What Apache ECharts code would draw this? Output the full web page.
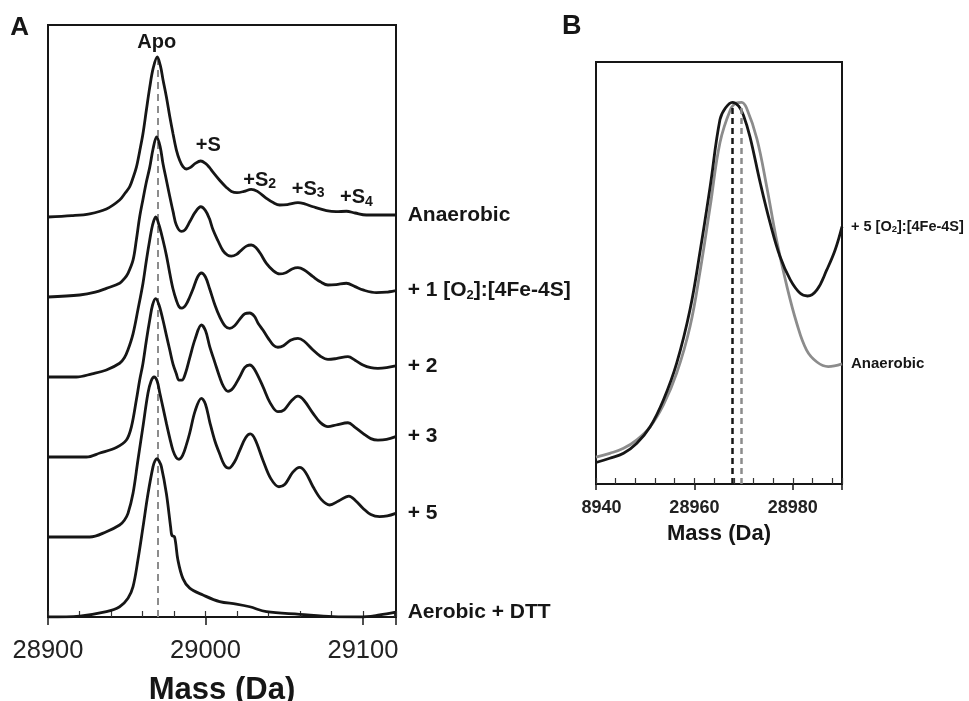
<!DOCTYPE html>
<html><head><meta charset="utf-8">
<script src="https://cdn.jsdelivr.net/npm/echarts@6/dist/echarts.min.js"></script>
<style>html,body{margin:0;padding:0;background:#fff}#c{width:969px;height:701px}</style>
</head><body><div id="c"></div>
<script>
const FONT = '"Liberation Sans", Arial, Helvetica, sans-serif';

// ---------- Panel A: stacked deconvoluted spectra ----------
const traceLabels = ['Anaerobic', '+ 1 [O{s|2}]:[4Fe-4S]', '+ 2', '+ 3', '+ 5', 'Aerobic + DTT'];
const stackOffsets = [2.5, 2.0, 1.5, 1.0, 0.5, 0];

const massAnaerobic = [28900, 28915, 28926.5, 28937.1, 28945.5, 28949, 28951.9, 28954, 28956.1, 28958.2, 28960.3, 28962.5, 28964.6, 28966.8, 28969.4, 28971.5, 28973.0, 28975.2, 28977.3, 28979.4, 28981.5, 28983.6, 28985.7, 28988, 28990.5, 28993.5, 28997, 29000, 29002.5, 29004.8, 29009, 29013.3, 29016.5, 29020, 29024.5, 29029, 29033, 29038.7, 29043, 29047.1, 29052, 29058.7, 29063, 29068.3, 29076.8, 29083, 29089.5, 29095, 29102.2, 29120.8];
const intAnaerobic  = [0, 0.008, 0.02, 0.05, 0.106, 0.15, 0.19, 0.245, 0.31, 0.41, 0.52, 0.67, 0.81, 0.93, 1.0, 0.94, 0.86, 0.75, 0.63, 0.52, 0.42, 0.355, 0.315, 0.30, 0.31, 0.335, 0.35, 0.335, 0.31, 0.28, 0.23, 0.185, 0.16, 0.152, 0.16, 0.173, 0.16, 0.117, 0.09, 0.075, 0.078, 0.09, 0.082, 0.064, 0.04, 0.033, 0.036, 0.025, 0.0125, 0.0125];

const massO1 = [28900, 28920.1, 28930, 28937.1, 28945.5, 28948.5, 28950.8, 28954.0, 28956.1, 28958.2, 28960.3, 28962.5, 28964.6, 28966.8, 28969.0, 28971.2, 28973.0, 28975.2, 28977.3, 28979.4, 28981.5, 28984.7, 28987, 28990.0, 28993.5, 28997.0, 29000, 29002.5, 29004.8, 29008, 29011.1, 29014, 29016.4, 29019.5, 29022.5, 29026, 29029.1, 29032, 29035, 29038.7, 29043, 29047.1, 29051, 29055, 29058.7, 29062.5, 29068.3, 29073, 29077.8, 29083, 29089.5, 29095, 29100.0, 29108.5, 29115, 29120.8];
const intO1  = [0, 0.0125, 0.03, 0.054, 0.086, 0.115, 0.148, 0.23, 0.356, 0.50, 0.61, 0.72, 0.81, 0.93, 1.0, 0.94, 0.835, 0.73, 0.63, 0.535, 0.45, 0.41, 0.42, 0.47, 0.53, 0.564, 0.54, 0.49, 0.42, 0.35, 0.29, 0.262, 0.256, 0.265, 0.29, 0.318, 0.325, 0.31, 0.27, 0.21, 0.165, 0.144, 0.152, 0.175, 0.183, 0.17, 0.127, 0.095, 0.075, 0.078, 0.086, 0.065, 0.044, 0.027, 0.03, 0.04];

const massO2 = [28900, 28918, 28928, 28937.1, 28945.5, 28948.5, 28950.8, 28954.0, 28957.1, 28960.3, 28962.5, 28964.6, 28966.4, 28968.4, 28970.5, 28973.0, 28975.2, 28977.3, 28979.4, 28981.5, 28983.2, 28985, 28987.5, 28990, 28992.1, 28995, 28997.4, 29000, 29002.7, 29006, 29009.0, 29012.5, 29015.4, 29018.5, 29021.7, 29025, 29028.1, 29031, 29033.5, 29036.5, 29040, 29043, 29046.0, 29049.5, 29054, 29058.7, 29062.5, 29068.3, 29073, 29077.8, 29083, 29090.5, 29095, 29100, 29105, 29109.5, 29115, 29120.8];
const intO2  = [0, 0, 0.02, 0.044, 0.086, 0.12, 0.17, 0.27, 0.42, 0.585, 0.73, 0.856, 0.95, 1.0, 0.95, 0.856, 0.76, 0.65, 0.55, 0.48, 0.44, 0.43, 0.45, 0.5, 0.55, 0.625, 0.65, 0.625, 0.55, 0.45, 0.377, 0.318, 0.304, 0.32, 0.36, 0.395, 0.40, 0.38, 0.335, 0.294, 0.24, 0.2, 0.186, 0.195, 0.23, 0.242, 0.225, 0.169, 0.13, 0.11, 0.115, 0.127, 0.105, 0.075, 0.058, 0.054, 0.058, 0.069];

const massO3 = [28900, 28924.4, 28933, 28943.4, 28949.8, 28953.0, 28956.1, 28958.2, 28960.3, 28962.5, 28964.6, 28966.4, 28968.4, 28970.5, 28973.0, 28975.2, 28977.3, 28979.4, 28981.5, 28983.2, 28985, 28987.5, 28990.0, 28993.5, 28997.4, 29000, 29002.7, 29006, 29009.0, 29011.5, 29014.3, 29017.5, 29021.7, 29025, 29028.1, 29031, 29036.5, 29041, 29046.0, 29050, 29054.5, 29058.7, 29062.5, 29068.3, 29073, 29077.8, 29083, 29090.5, 29095, 29100, 29105, 29109.5, 29115, 29120.8];
const intO3  = [0, 0, 0.025, 0.06, 0.106, 0.19, 0.356, 0.48, 0.585, 0.73, 0.856, 0.95, 0.99, 0.95, 0.856, 0.76, 0.67, 0.58, 0.52, 0.48, 0.48, 0.53, 0.62, 0.74, 0.825, 0.79, 0.69, 0.59, 0.50, 0.44, 0.41, 0.43, 0.50, 0.56, 0.575, 0.55, 0.44, 0.34, 0.283, 0.295, 0.35, 0.38, 0.355, 0.273, 0.215, 0.19, 0.2, 0.214, 0.185, 0.148, 0.115, 0.106, 0.11, 0.127];

const massO5 = [28900, 28926.5, 28937.1, 28945.5, 28948.5, 28950.8, 28954.0, 28957.1, 28960.3, 28963.5, 28965.5, 28967.4, 28969.3, 28971.0, 28973, 28975.2, 28977.3, 28979.4, 28981.5, 28983.2, 28985.5, 28988, 28990.0, 28993.5, 28997.4, 29000, 29002.7, 29006, 29009.0, 29012, 29014.9, 29018.5, 29021.7, 29025.5, 29028.5, 29031.5, 29036.5, 29041.5, 29046.7, 29050.5, 29055.5, 29059.8, 29063.5, 29068.3, 29073.5, 29078.9, 29084.5, 29091.1, 29095.5, 29100, 29105, 29110.6, 29115.5, 29120.8];
const intO5  = [0, 0, 0.033, 0.075, 0.105, 0.148, 0.273, 0.48, 0.69, 0.90, 0.975, 1.0, 0.975, 0.90, 0.81, 0.71, 0.62, 0.54, 0.495, 0.486, 0.51, 0.58, 0.65, 0.79, 0.867, 0.83, 0.72, 0.6, 0.52, 0.45, 0.43, 0.47, 0.54, 0.62, 0.644, 0.61, 0.48, 0.365, 0.314, 0.33, 0.405, 0.435, 0.405, 0.314, 0.235, 0.20, 0.225, 0.256, 0.225, 0.18, 0.14, 0.127, 0.132, 0.148];

const massAerobic = [28900, 28920.1, 28937.1, 28945.5, 28950.8, 28954.0, 28957.1, 28960.3, 28963.5, 28966.7, 28967.9, 28969.2, 28970.5, 28972.0, 28975.2, 28977.9, 28978.7, 28980.4, 28982.5, 28985.7, 28990.0, 28998.4, 29009.0, 29019.6, 29028.1, 29038.7, 29059.8, 29081.0, 29097.9, 29110.6, 29120.8];
const intAerobic  = [0, 0.006, 0.033, 0.064, 0.117, 0.19, 0.356, 0.56, 0.77, 0.94, 0.975, 0.99, 0.975, 0.94, 0.77, 0.56, 0.51, 0.50, 0.356, 0.24, 0.18, 0.1375, 0.096, 0.081, 0.064, 0.033, 0.017, 0.002, 0, 0.0125, 0.03];

const massesA = [massAnaerobic, massO1, massO2, massO3, massO5, massAerobic];
const intensA = [intAnaerobic, intO1, intO2, intO3, intO5, intAerobic];
const apoMassA = 28969.5;
const tickLabelsA = [28900, 29000, 29100];

// ---------- Panel B: zoom on the apo peak ----------
const massB5 = [28940, 28942.8, 28945.6, 28948.3, 28951.0, 28953.7, 28956.4, 28959.1, 28961.2, 28963.2, 28965.2, 28966.3, 28967.7, 28969.0, 28970.0, 28971.3, 28973.4, 28975.4, 28977.4, 28979.5, 28981.5, 28983.0, 28984.9, 28986.9, 28988.6, 28990];
const intB5  = [0.056, 0.067, 0.080, 0.106, 0.149, 0.219, 0.315, 0.454, 0.610, 0.775, 0.95, 0.98, 0.995, 0.985, 0.96, 0.905, 0.784, 0.680, 0.593, 0.532, 0.497, 0.490, 0.506, 0.558, 0.610, 0.671];
const massBAn = [28940, 28942.8, 28945.6, 28948.3, 28951.0, 28953.7, 28956.4, 28959.1, 28961.2, 28963.2, 28965.2, 28967.3, 28968.5, 28969.6, 28970.6, 28972.7, 28974.7, 28976.7, 28978.8, 28980.8, 28982.8, 28984.9, 28987.2, 28990];
const intBAn  = [0.070, 0.080, 0.093, 0.115, 0.149, 0.206, 0.289, 0.410, 0.558, 0.723, 0.89, 0.975, 0.993, 0.995, 0.98, 0.90, 0.775, 0.636, 0.515, 0.419, 0.349, 0.318, 0.306, 0.313];
const peakMassB5 = 28967.6, peakMassBAn = 28969.6;
const tickLabelsB = {28940: '8940', 28960: '28960', 28980: '28980'};

const BLACK = '#161616', GRAY = '#8c8c8c';

const series = [];
massesA.forEach((ms, k) => {
  series.push({
    type: 'line', xAxisIndex: 0, yAxisIndex: 0, z: 3,
    data: ms.map((m, i) => [m, intensA[k][i] + stackOffsets[k]]),
    smooth: 0.35, showSymbol: false, silent: true,
    lineStyle: {color: BLACK, width: 2.8},
    endLabel: {
      show: true, formatter: traceLabels[k], distance: 12,
      color: BLACK, fontFamily: FONT, fontWeight: 'bold', fontSize: 21, lineHeight: 23,
      rich: {s: {fontSize: 13, fontWeight: 'bold', fontFamily: FONT, color: BLACK, lineHeight: 13, verticalAlign: 'bottom'}}
    }
  });
});
// dashed apo reference line, panel A
series.push({
  type: 'line', xAxisIndex: 0, yAxisIndex: 0, z: 1, data: [], silent: true,
  markLine: {symbol: 'none', silent: true, label: {show: false}, z: 1,
    lineStyle: {color: GRAY, width: 2, type: [7, 5]},
    data: [[{coord: [apoMassA, 0]}, {coord: [apoMassA, 3.48]}]]}
});
// panel B curves
series.push({
  type: 'line', xAxisIndex: 2, yAxisIndex: 1, z: 2,
  data: massBAn.map((m, i) => [m, intBAn[i]]),
  smooth: 0.4, showSymbol: false, silent: true,
  lineStyle: {color: GRAY, width: 2.8},
  endLabel: {show: true, formatter: 'Anaerobic', distance: 9, color: BLACK, fontFamily: FONT, fontWeight: 'bold', fontSize: 15},
  markLine: {symbol: 'none', silent: true, label: {show: false},
    lineStyle: {color: GRAY, width: 2.5, type: [6, 4]},
    data: [[{coord: [peakMassBAn, 0]}, {coord: [peakMassBAn, 0.985]}]]}
});
series.push({
  type: 'line', xAxisIndex: 2, yAxisIndex: 1, z: 3,
  data: massB5.map((m, i) => [m, intB5[i]]),
  smooth: 0.4, showSymbol: false, silent: true,
  lineStyle: {color: BLACK, width: 2.8},
  endLabel: {show: true, formatter: '+ 5 [O{s|2}]:[4Fe-4S]', distance: 9, color: BLACK, fontFamily: FONT, fontWeight: 'bold', fontSize: 14.5, lineHeight: 16,
    rich: {s: {fontSize: 9.5, fontWeight: 'bold', fontFamily: FONT, color: BLACK, lineHeight: 9, verticalAlign: 'bottom'}}},
  markLine: {symbol: 'none', silent: true, label: {show: false},
    lineStyle: {color: BLACK, width: 2.5, type: [6, 4]},
    data: [[{coord: [peakMassB5, 0]}, {coord: [peakMassB5, 0.985]}]]}
});

const axisLineStyle = {lineStyle: {color: BLACK, width: 2}};
const option = {
  animation: false,
  backgroundColor: '#fff',
  grid: [
    {left: 48, top: 25, width: 348, height: 592, show: true, borderColor: BLACK, borderWidth: 2, containLabel: false, outerBoundsMode: 'none'},
    {left: 596, top: 62, width: 246, height: 422, show: true, borderColor: BLACK, borderWidth: 2, containLabel: false, outerBoundsMode: 'none'}
  ],
  xAxis: [
    {type: 'value', gridIndex: 0, min: 28900, max: 29121, interval: 100, position: 'bottom',
      axisLine: axisLineStyle, axisTick: {show: true, length: 8, lineStyle: {color: BLACK, width: 1.5}},
      splitLine: {show: false},
      axisLabel: {fontFamily: FONT, fontSize: 25.5, color: '#222', margin: 21,
        formatter: v => tickLabelsA.includes(v) ? String(v) : ''},
      name: 'Mass (Da)', nameLocation: 'middle', nameGap: 58,
      nameTextStyle: {fontFamily: FONT, fontSize: 31, fontWeight: 'bold', color: BLACK}},
    {type: 'value', gridIndex: 0, min: 28900, max: 29121, interval: 20, position: 'bottom',
      axisLine: {show: false}, axisLabel: {show: false}, splitLine: {show: false},
      axisTick: {show: true, inside: true, length: 6, lineStyle: {color: '#333', width: 1.2}}},
    {type: 'value', gridIndex: 1, min: 28940, max: 28990, interval: 20, position: 'bottom',
      axisLine: axisLineStyle, axisTick: {show: true, length: 6, lineStyle: {color: BLACK, width: 1.5}},
      splitLine: {show: false},
      axisLabel: {fontFamily: FONT, fontSize: 18, fontWeight: 'bold', color: '#222', margin: 15,
        formatter: v => v === 28940 ? '{p|' + tickLabelsB[v] + '}' : (tickLabelsB[v] || ''),
        rich: {p: {fontFamily: FONT, fontSize: 18, fontWeight: 'bold', color: '#222', padding: [0, 0, 0, 11]}}},
      name: 'Mass (Da)', nameLocation: 'middle', nameGap: 39,
      nameTextStyle: {fontFamily: FONT, fontSize: 22, fontWeight: 'bold', color: BLACK}},
    {type: 'value', gridIndex: 1, min: 28940, max: 28990, interval: 4, position: 'bottom',
      axisLine: {show: false}, axisLabel: {show: false}, splitLine: {show: false},
      axisTick: {show: true, inside: true, length: 6, lineStyle: {color: '#333', width: 1.2}}}
  ],
  yAxis: [
    {type: 'value', gridIndex: 0, min: 0, max: 3.7, show: false},
    {type: 'value', gridIndex: 1, min: 0, max: 1.1, show: false}
  ],
  graphic: [
    {type: 'text', x: 19.7, y: 27.5, style: {text: 'A', font: 'bold 26px ' + FONT, fill: BLACK, align: 'center', verticalAlign: 'middle'}},
    {type: 'text', x: 571.7, y: 26.7, style: {text: 'B', font: 'bold 27px ' + FONT, fill: BLACK, align: 'center', verticalAlign: 'middle'}},
    {type: 'text', x: 156.7, y: 42.7, style: {text: 'Apo', font: 'bold 20px ' + FONT, fill: BLACK, align: 'center', verticalAlign: 'middle'}},
    {type: 'text', x: 208.3, y: 145, style: {text: '+S', font: 'bold 20px ' + FONT, fill: BLACK, align: 'center', verticalAlign: 'middle'}},
    {type: 'text', x: 243.3, y: 180, style: {text: '+S{s|2}', font: 'bold 20px ' + FONT, fill: BLACK, align: 'left', verticalAlign: 'middle', lineHeight: 22,
      rich: {s: {fontSize: 14, fontWeight: 'bold', fontFamily: FONT, fill: BLACK, lineHeight: 14, verticalAlign: 'bottom'}}}},
    {type: 'text', x: 291.7, y: 189.3, style: {text: '+S{s|3}', font: 'bold 20px ' + FONT, fill: BLACK, align: 'left', verticalAlign: 'middle', lineHeight: 22,
      rich: {s: {fontSize: 14, fontWeight: 'bold', fontFamily: FONT, fill: BLACK, lineHeight: 14, verticalAlign: 'bottom'}}}},
    {type: 'text', x: 340, y: 197.7, style: {text: '+S{s|4}', font: 'bold 20px ' + FONT, fill: BLACK, align: 'left', verticalAlign: 'middle', lineHeight: 22,
      rich: {s: {fontSize: 14, fontWeight: 'bold', fontFamily: FONT, fill: BLACK, lineHeight: 14, verticalAlign: 'bottom'}}}}
  ],
  series: series
};
const chart = echarts.init(document.getElementById('c'), null, {renderer: 'canvas'});
chart.setOption(option);
</script>
</body></html>
